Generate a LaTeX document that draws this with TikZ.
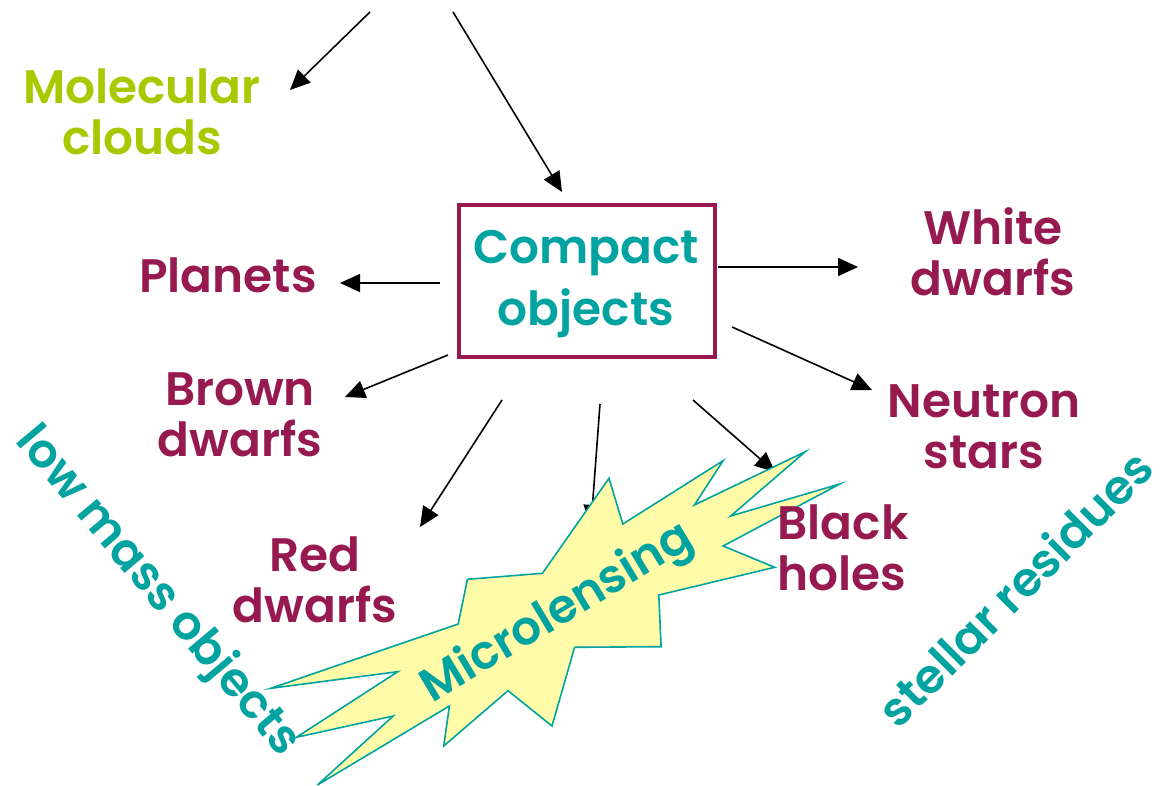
\documentclass[tikz,border=0pt]{standalone}
\usepackage{fontspec}
\setmainfont{Poppins}[BoldFont={Poppins SemiBold}]
\usetikzlibrary{arrows.meta}
\definecolor{maroon}{HTML}{961A50}
\definecolor{tealc}{HTML}{00A3A0}
\definecolor{limec}{HTML}{A8C800}
\definecolor{starfill}{HTML}{FFFBA8}
\tikzset{
  lbl/.style={font=\fontsize{47}{51}\selectfont\bfseries, align=center, inner sep=0pt},
  mar/.style={lbl, text=maroon},
  arr/.style={line width=1.6pt, -{Triangle[length=20pt,width=18pt]}},
}
\begin{document}
\begin{tikzpicture}[x=1pt,y=-1pt]
\useasboundingbox (0,0) rectangle (1164,786);
% nodes
\node[lbl, text=limec] (mol) at (142,112) {Molecular\\clouds};
\node[draw=maroon, line width=4pt, minimum width=256pt, minimum height=151pt, inner sep=0pt] (box) at (586.5,281) {};
\node[lbl, text=tealc, font=\fontsize{47}{62}\selectfont\bfseries] (comp) at (586,284) {Compact\\objects};
\node[mar] (pla) at (228,275) {Planets};
\node[mar] (wd) at (993,252) {White\\dwarfs};
\node[mar] (ns) at (984,427) {Neutron\\stars};
\node[mar] (bd) at (240,415) {Brown\\dwarfs};
\node[mar] (rd) at (315,580) {Red\\dwarfs};
% arrow endpoints
\coordinate (t1) at (370,12);  \coordinate (e1) at (290,90);
\coordinate (t2) at (453,12);  \coordinate (e2) at (562,192);
\coordinate (s3) at (440,283); \coordinate (e3) at (340,283);
\coordinate (s4) at (718,267); \coordinate (e4) at (858,267);
\coordinate (s5) at (732,327); \coordinate (e5) at (872,390);
\coordinate (s6) at (448,355); \coordinate (e6) at (345,397);
\coordinate (s7) at (502,400); \coordinate (e7) at (420,527);
\coordinate (s8) at (600,404); \coordinate (e8) at (591,525);
\coordinate (s9) at (693,400); \coordinate (e9) at (775,472);
\draw[arr] (t1) -- (e1);
\draw[arr] (t2) -- (e2);
\draw[arr] (s3) -- (e3);
\draw[arr] (s4) -- (e4);
\draw[arr] (s5) -- (e5);
\draw[arr] (s6) -- (e6);
\draw[arr] (s7) -- (e7);
\draw[arr] (s8) -- (e8);
\draw[arr] (s9) -- (e9);
% starburst
\draw[draw=tealc, fill=starfill, line width=1.6pt, line join=miter]
 (467.4,579.3) -- (542.4,573.3) -- (609.0,478.3) -- (622.8,524) -- (723.1,460.7)
 -- (694.4,505) -- (805.3,451.7) -- (730.7,516) -- (839.8,484) -- (723.1,546)
 -- (774.7,567.3) -- (658.8,595) -- (661.1,646.7) -- (574.6,647.3) -- (552.0,726)
 -- (508.0,690.7) -- (443.7,746) -- (449.4,706) -- (317.4,785) -- (393.2,716)
 -- (296.4,737.3) -- (397.8,671.7) -- (270.7,688.3) -- (458.2,624) -- cycle;
\node[lbl, text=tealc, rotate=31] (micro) at (558,614) {Microlensing};
\node[mar, align=left] (bh) at (843,548) {Black\\holes};
\node[lbl, text=tealc, rotate=-50] (low) at (157,592) {low mass objects};
\node[lbl, text=tealc, rotate=45] (stel) at (1015,588) {stellar residues};
\end{tikzpicture}
\end{document}
